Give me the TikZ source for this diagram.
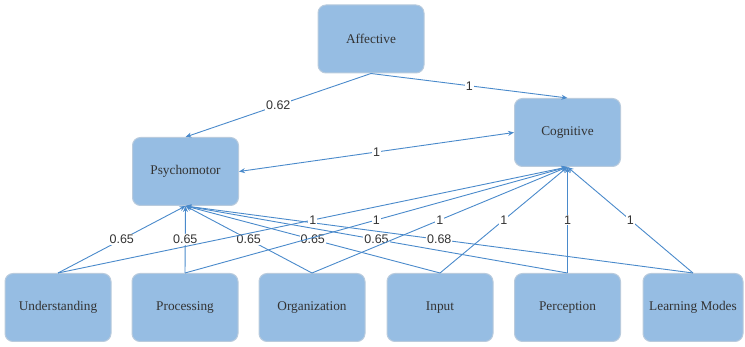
\documentclass[tikz,border=0pt]{standalone}
\usepackage{fontspec}
\setmainfont{Liberation Serif}
\newfontfamily\boxfont{Liberation Serif}
\newfontfamily\labfont{Liberation Sans}
\usetikzlibrary{arrows.meta}
\definecolor{boxfill}{HTML}{96BDE3}
\definecolor{boxline}{HTML}{B9CBDD}
\definecolor{edgecol}{HTML}{4A8ACB}
\definecolor{txt}{HTML}{333333}
\begin{document}
\begin{tikzpicture}[x=1pt,y=-1pt,
  box/.style={draw=boxline, line width=1pt, fill=boxfill, rounded corners=8pt,
    minimum width=106pt, minimum height=68pt, inner sep=0pt,
    font=\boxfont\fontsize{13.3}{15}\selectfont, text=txt},
  edge/.style={draw=edgecol, line width=0.9pt, -{Stealth[length=6pt,width=5pt]}},
  biedge/.style={draw=edgecol, line width=0.9pt, {Stealth[length=6pt,width=5pt]}-{Stealth[length=6pt,width=5pt]}},
  lab/.style={fill=white, inner sep=1pt, font=\labfont\fontsize{12.5}{14}\selectfont, text=txt}]
\useasboundingbox (0,0) rectangle (745,347);
\node[box] (aff) at (371,39) {Affective};
\node[box] (cog) at (567.5,132.5) {Cognitive};
\node[box] (psy) at (185.5,171.5) {Psychomotor};
\node[box] (und) at (58,307.5) {Understanding};
\node[box] (pro) at (185,307.5) {Processing};
\node[box] (org) at (312,307.5) {Organization};
\node[box] (inp) at (440,307.5) {Input};
\node[box] (per) at (567.5,307.5) {Perception};
\node[box, minimum width=100pt] (lm) at (693,307.5) {Learning Modes};

\draw[edge] (aff.south) -- node[lab] {0.62} (psy.north);
\draw[edge] (aff.south) -- node[lab] {1} (cog.north);
\draw[biedge] (psy.east) -- node[lab] {1} (cog.west);

\draw[edge] (und.north) -- node[lab] {0.65} (psy.south);
\draw[edge] (pro.north) -- node[lab] {0.65} (psy.south);
\draw[edge] (org.north) -- node[lab] {0.65} (psy.south);
\draw[edge] (inp.north) -- node[lab] {0.65} (psy.south);
\draw[edge] (per.north) -- node[lab] {0.65} (psy.south);
\draw[edge] (lm.north) -- node[lab] {0.68} (psy.south);

\draw[edge] (und.north) -- node[lab] {1} (cog.south);
\draw[edge] (pro.north) -- node[lab] {1} (cog.south);
\draw[edge] (org.north) -- node[lab] {1} (cog.south);
\draw[edge] (inp.north) -- node[lab] {1} (cog.south);
\draw[edge] (per.north) -- node[lab] {1} (cog.south);
\draw[edge] (lm.north) -- node[lab] {1} (cog.south);
\end{tikzpicture}
\end{document}
